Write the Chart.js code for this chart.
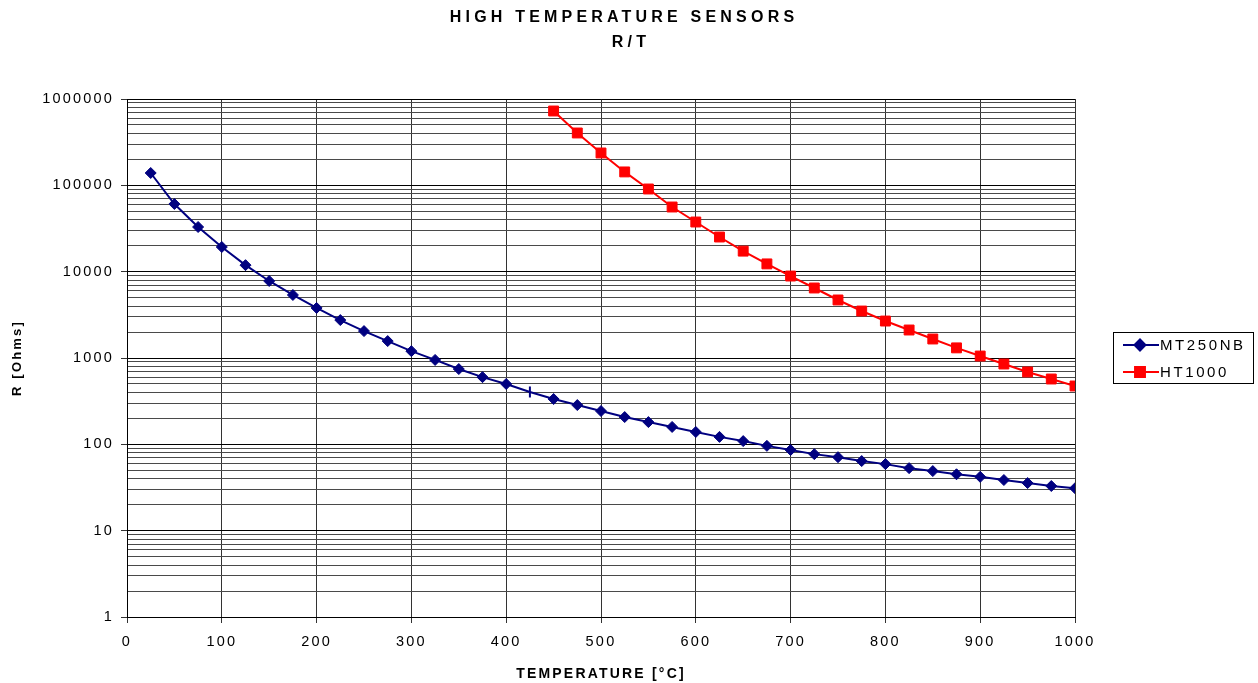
<!DOCTYPE html>
<html>
<head>
    <title>High Temperature Sensors R/T</title>
    <script src="https://cdn.jsdelivr.net/npm/chart.js"></script>
    <style>
        body {
            margin: 0;
            padding: 0;
            background-color: #ffffff;
        }

        .chart-box {
            position: relative;
            width: 1258px;
            height: 683px;
        }
    </style>
</head>
<body>
    <div class="chart-box">
        <canvas id="rtChart"></canvas>
    </div>

    <script>
        // Data
        var mtTemps = [25, 50, 75, 100, 125, 150, 175, 200, 225, 250, 275, 300, 325, 350, 375, 400,
            425, 450, 475, 500, 525, 550, 575, 600, 625, 650, 675, 700, 725, 750, 775, 800,
            825, 850, 875, 900, 925, 950, 975, 1000];
        var mtValues = [139000, 60800, 32900, 19300, 11900, 7800, 5370, 3800, 2750, 2050, 1570, 1200,
            950, 745, 600, 500, 404, 335, 285, 243, 207, 181, 159, 139, 122, 109, 96, 86,
            77, 71, 64, 59, 53, 49, 45, 42, 38.6, 35.6, 32.9, 31];

        var htTemps = [450, 475, 500, 525, 550, 575, 600, 625, 650, 675, 700, 725, 750, 775, 800,
            825, 850, 875, 900, 925, 950, 975, 1000];
        var htValues = [726000, 404000, 237000, 143000, 90700, 56100, 37600, 25200, 17300, 12300,
            8900, 6470, 4700, 3500, 2680, 2110, 1660, 1310, 1054, 852, 689, 571, 474];

        var yTickLabels = [1, 10, 100, 1000, 10000, 100000, 1000000];
        var xTickLabels = [0, 100, 200, 300, 400, 500, 600, 700, 800, 900, 1000];

        var FONT = "'Liberation Sans', Arial, sans-serif";
        var NAVY = '#000080';
        var RED = '#ff0000';

        // every 1..9 x 10^k gridline between the labelled decades
        var yGridValues = [];
        for (var i = 0; i < yTickLabels.length - 1; i++) {
            for (var m = 1; m <= 9; m++) {
                yGridValues.push(m * yTickLabels[i]);
            }
        }
        yGridValues.push(yTickLabels[yTickLabels.length - 1]);

        function toPoints(xs, ys) {
            return xs.map(function(x, i) { return { x: x, y: ys[i] }; });
        }

        // Chart.js has no letter spacing option, so set it on the context
        var spacingPlugin = {
            id: 'spacing',
            beforeUpdate: function(chart) { chart.ctx.letterSpacing = '2.2px'; },
            beforeDraw: function(chart) { chart.ctx.letterSpacing = '2.2px'; }
        };

        // Two line title, drawn with wider spacing like the original
        var titlePlugin = {
            id: 'wideTitle',
            afterDraw: function(chart) {
                var ctx = chart.ctx;
                ctx.save();
                ctx.letterSpacing = '4.2px';
                ctx.fillStyle = '#000';
                ctx.font = 'bold 16px ' + FONT;
                ctx.textAlign = 'center';
                ctx.textBaseline = 'middle';
                ctx.fillText('HIGH TEMPERATURE SENSORS', 624, 18);
                ctx.fillText('R/T', 631, 43);
                ctx.restore();
            }
        };

        // Boxed legend with line + marker samples
        var legendPlugin = {
            id: 'boxLegend',
            afterDraw: function(chart) {
                var ctx = chart.ctx;
                var left = 1113, top = 332, w = 140, h = 51;
                ctx.save();
                ctx.fillStyle = '#fff';
                ctx.fillRect(left, top, w, h);
                ctx.strokeStyle = '#000';
                ctx.lineWidth = 1;
                ctx.strokeRect(left + 0.5, top + 0.5, w, h);

                chart.data.datasets.forEach(function(ds, i) {
                    var y = top + 13 + i * 27;
                    ctx.strokeStyle = ds.borderColor;
                    ctx.lineWidth = 2;
                    ctx.beginPath();
                    ctx.moveTo(left + 10, y);
                    ctx.lineTo(left + 46, y);
                    ctx.stroke();
                    Chart.helpers.drawPoint(ctx, {
                        pointStyle: ds.legendStyle,
                        rotation: 0,
                        radius: ds.legendRadius,
                        borderWidth: 1
                    }, left + 27, y);
                    ctx.fillStyle = ds.borderColor;
                    ctx.fill();

                    ctx.fillStyle = '#000';
                    ctx.letterSpacing = '2.6px';
                    ctx.font = '15px ' + FONT;
                    ctx.textAlign = 'left';
                    ctx.textBaseline = 'middle';
                    ctx.fillText(ds.label, left + 47, y + 1);
                });
                ctx.restore();
            }
        };

        var ctx = document.getElementById('rtChart').getContext('2d');
        var rtChart = new Chart(ctx, {
            type: 'line',
            data: {
                datasets: [{
                    label: 'MT250NB',
                    data: toPoints(mtTemps, mtValues),
                    borderColor: NAVY,
                    backgroundColor: NAVY,
                    borderWidth: 2,
                    // the 425 point is drawn as a small dash in the original
                    pointStyle: function(c) { return c.dataIndex === 16 ? 'line' : 'rectRot'; },
                    rotation: function(c) { return c.dataIndex === 16 ? 90 : 0; },
                    pointRadius: 5.5,
                    pointBorderWidth: function(c) { return c.dataIndex === 16 ? 2 : 1; },
                    pointBorderColor: NAVY,
                    pointBackgroundColor: NAVY,
                    legendStyle: 'rectRot',
                    legendRadius: 5.5,
                    tension: 0
                }, {
                    label: 'HT1000',
                    data: toPoints(htTemps, htValues),
                    borderColor: RED,
                    backgroundColor: RED,
                    borderWidth: 2,
                    pointStyle: 'rect',
                    pointRadius: 7,
                    pointBorderWidth: 1,
                    pointBorderColor: RED,
                    pointBackgroundColor: RED,
                    legendStyle: 'rect',
                    legendRadius: 7,
                    tension: 0
                }]
            },
            options: {
                responsive: true,
                maintainAspectRatio: false,
                animation: false,
                layout: {
                    padding: { top: 99, right: 183, left: 0, bottom: 0 }
                },
                plugins: {
                    legend: { display: false },
                    title: { display: false },
                    tooltip: { enabled: false }
                },
                scales: {
                    x: {
                        type: 'linear',
                        min: 0,
                        max: 1000,
                        afterBuildTicks: function(scale) {
                            scale.ticks = xTickLabels.map(function(v) { return { value: v }; });
                        },
                        afterFit: function(scale) { scale.height = 66; },
                        ticks: {
                            color: '#000',
                            padding: 10,
                            maxRotation: 0,
                            autoSkip: false,
                            font: { family: FONT, size: 14.5 },
                            callback: function(value) { return String(value); }
                        },
                        grid: {
                            color: '#333',
                            tickColor: '#333',
                            tickLength: 6,
                            lineWidth: 1
                        },
                        border: { color: '#000', width: 1 },
                        title: {
                            display: true,
                            text: 'TEMPERATURE [°C]',
                            color: '#000',
                            padding: { top: 0, bottom: 0 },
                            font: { family: FONT, size: 14, weight: 'bold' }
                        }
                    },
                    y: {
                        type: 'logarithmic',
                        min: 1,
                        max: 1000000,
                        afterBuildTicks: function(scale) {
                            scale.ticks = yGridValues.map(function(v) {
                                return { value: v, major: yTickLabels.indexOf(v) >= 0 };
                            });
                        },
                        afterFit: function(scale) { scale.width = 127; },
                        ticks: {
                            color: '#000',
                            padding: 7,
                            autoSkip: false,
                            font: { family: FONT, size: 14.5 },
                            callback: function(value) {
                                return yTickLabels.indexOf(value) >= 0 ? String(value) : '';
                            }
                        },
                        grid: {
                            color: function(c) {
                                return c.tick && yTickLabels.indexOf(c.tick.value) >= 0 ? '#000' : '#4a4a4a';
                            },
                            tickColor: function(c) {
                                return c.tick && yTickLabels.indexOf(c.tick.value) >= 0 ? '#333' : 'rgba(0,0,0,0)';
                            },
                            tickLength: 6,
                            lineWidth: 1
                        },
                        border: { color: '#000', width: 1 },
                        title: {
                            display: true,
                            text: 'R [Ohms]',
                            color: '#000',
                            padding: { top: 10, bottom: 10 },
                            font: { family: FONT, size: 13, weight: 'bold' }
                        }
                    }
                }
            },
            plugins: [spacingPlugin, titlePlugin, legendPlugin]
        });
    </script>
</body>
</html>
